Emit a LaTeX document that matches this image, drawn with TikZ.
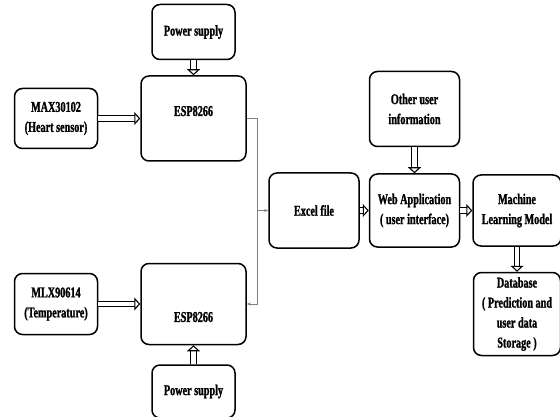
\documentclass[tikz,border=0pt]{standalone}
\usepackage{fontspec}
\setmainfont{Liberation Serif}[FakeStretch=0.68, BoldFeatures={FakeBold=1.2}]
\usetikzlibrary{positioning,arrows.meta}

\begin{document}
\begin{tikzpicture}[x=1pt, y=1pt, line width=1.5pt, node distance=15pt,
	box/.style = {draw, rounded corners=8pt, align=center, font=\fontsize{15}{20}\selectfont\bfseries, inner sep=2pt},
	dbl/.style = {draw, line width=1.1pt, double, double distance=4.5pt, -{Triangle[open, length=6pt, width=13pt]}},
	wire/.style = {draw=gray, line width=0.8pt, -{Stealth[length=4pt, width=3pt]}}]
	\useasboundingbox (0,0) rectangle (560,-417);
	\node[box, minimum width=105pt, minimum height=85pt, text depth=15pt] (esp1) at (193.5,-118.5) {ESP8266};
	\node[box, minimum width=83pt, minimum height=55pt] (ps1) [above=15pt of esp1] {Power supply};
	\node[box, minimum width=83pt, minimum height=60pt] (max) [left=42pt of esp1] {MAX30102\\(Heart sensor)};
	\node[box, minimum width=105pt, minimum height=81pt, text height=36pt] (esp2) [below=101pt of esp1] {ESP8266};
	\node[box, minimum width=83pt, minimum height=61pt] (mlx) [left=42pt of esp2] {MLX90614\\(Temperature)};
	\node[box, minimum width=83pt, minimum height=53pt] (ps2) [below=19pt of esp2] {Power supply};
	\node[box, minimum width=90pt, minimum height=75pt] (excel) at (314,-210.5) {Excel file};
	\node[box, minimum width=90pt, minimum height=73pt] (web) [right=9pt of excel] {Web Application\\( user interface)};
	\node[box, minimum width=90pt, minimum height=75pt] (other) [above=26pt of web] {Other user\\information};
	\node[box, minimum width=88pt, minimum height=71pt] (ml) [right=12pt of web] {Machine\\Learning Model};
	\node[box, minimum width=87pt, minimum height=83pt] (db) [below=25pt of ml] {Database\\( Prediction and\\user data\\Storage )};
	% double arrows
	\draw[dbl] (ps1) -- (esp1);
	\draw[dbl] (max) -- (esp1);
	\draw[dbl] (mlx) -- (esp2);
	\draw[dbl] (ps2) -- (esp2);
	\draw[dbl] (excel) -- (web);
	\draw[dbl] (other) -- (web);
	\draw[dbl] (web) -- (ml);
	\draw[dbl] (ml) -- (db);
	% thin link from the boards
	\draw[wire] (esp1.east) -- ++(11,0) coordinate (split) |- (esp2.east);
	\draw[wire] (split |- excel.west) -- (excel.west);
\end{tikzpicture}
\end{document}
